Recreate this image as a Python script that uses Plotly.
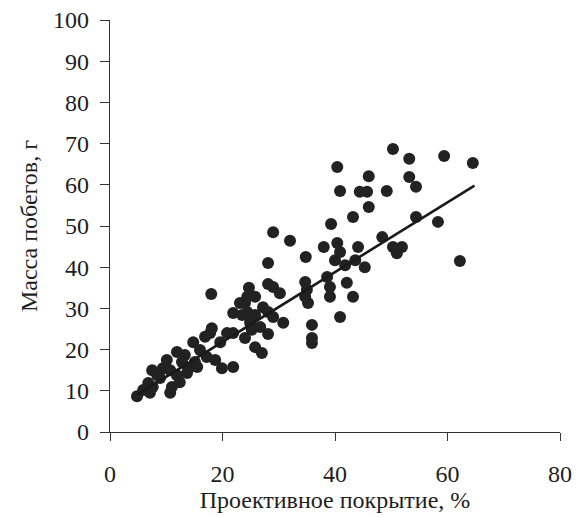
import plotly.graph_objects as go

# Projective cover, %
cover = [4.8, 5.9, 7.1, 6.8, 7.6, 7.5, 8.4, 9.4, 8.9, 10.7, 10.1, 11.0, 10.7, 11.9, 13.3,
         12.4, 11.9, 13.9, 15.1, 14.8, 16.0, 17.2, 18.7, 16.9, 18.1, 17.8, 19.6, 19.9, 21.9,
         18.0, 20.8, 21.9, 23.1, 21.9, 24.0, 23.5, 24.0, 24.4, 24.7, 24.4, 25.8, 24.9, 25.2,
         25.8, 25.8, 27.0, 27.2, 28.1, 29.0, 30.8, 28.1, 28.1, 29.0, 30.2, 29.0, 32.0, 28.1,
         34.7, 35.0, 34.7, 35.2, 39.1, 39.1, 42.1, 43.2, 40.9, 35.9, 35.9, 35.9, 34.8, 38.6,
         38.0, 40.4, 40.9, 40.0, 41.8, 43.6, 44.1, 45.3, 39.3, 43.2, 40.4, 40.9, 44.4, 45.7,
         46.0, 46.0, 49.2, 48.4, 50.3, 51.9, 51.0, 50.3, 53.2, 59.4, 64.5, 53.2, 54.4, 54.4,
         58.3, 62.2, 15.5, 13.7, 12.8, 26.7]
# Shoot mass, g
mass = [8.7, 10.2, 9.5, 11.9, 10.9, 15.0, 13.8, 15.5, 13.1, 15.0, 17.5, 10.9, 9.5, 19.4, 18.7,
        12.1, 13.8, 15.5, 17.0, 21.8, 19.9, 18.2, 17.5, 23.1, 25.2, 24.0, 21.8, 15.5, 15.8,
        33.5, 24.0, 28.9, 31.3, 24.0, 22.8, 28.4, 31.3, 29.1, 35.0, 32.8, 32.8, 26.5, 24.8,
        28.4, 20.6, 19.2, 30.3, 29.1, 27.9, 26.5, 23.8, 35.9, 35.2, 33.7, 48.5, 46.4, 41.0,
        36.4, 34.5, 32.8, 31.3, 35.2, 32.8, 36.2, 32.8, 27.9, 26.0, 22.8, 21.6, 42.5, 37.6,
        44.9, 45.9, 43.7, 41.7, 40.5, 41.7, 44.9, 40.0, 50.5, 52.2, 64.3, 58.5, 58.3, 58.3,
        62.1, 54.6, 58.5, 47.3, 44.9, 44.9, 43.4, 68.7, 66.3, 67.0, 65.3, 61.9, 59.5, 52.2,
        51.0, 41.5, 15.8, 14.3, 17.0, 25.5]

# Regression line ends
fit_x = [4.8, 64.8]
fit_y = [9.0, 59.8]

x_ticks = [0, 20, 40, 60, 80]
y_ticks = [0, 10, 20, 30, 40, 50, 60, 70, 80, 90, 100]

FONT = "Liberation Serif"

fig = go.Figure()
fig.add_trace(go.Scatter(x=cover, y=mass, mode="markers",
                         marker=dict(size=12, color="#222222", line=dict(width=0)),
                         showlegend=False, hoverinfo="x+y"))
fig.add_trace(go.Scatter(x=fit_x, y=fit_y, mode="lines",
                         line=dict(color="#1a1a1a", width=2.6),
                         showlegend=False, hoverinfo="skip"))

fig.update_layout(
    width=579, height=517,
    margin=dict(l=110, r=19, t=20, b=85),
    paper_bgcolor="white", plot_bgcolor="white",
    font=dict(family=FONT, size=24, color="#1e1e1e"),
    xaxis=dict(range=[0, 80], tickvals=x_ticks, showgrid=False, zeroline=False,
               automargin=False,
               showline=True, linecolor="#333333", linewidth=1.3,
               ticks="outside", ticklen=8, tickcolor="#333333", tickwidth=1.3,
               ticklabelstandoff=12,
               title=dict(text="Проективное покрытие, %", standoff=2,
                          font=dict(family=FONT, size=24, color="#1e1e1e"))),
    yaxis=dict(range=[0, 100], tickvals=y_ticks, showgrid=False, zeroline=False,
               automargin=False,
               showline=True, linecolor="#333333", linewidth=1.3,
               ticks="outside", ticklen=9, tickcolor="#333333", tickwidth=1.3,
               ticklabelstandoff=6,
               title=dict(text="Масса побегов, г", standoff=8,
                          font=dict(family=FONT, size=24, color="#1e1e1e"))),
)

fig.write_html("out.html")
